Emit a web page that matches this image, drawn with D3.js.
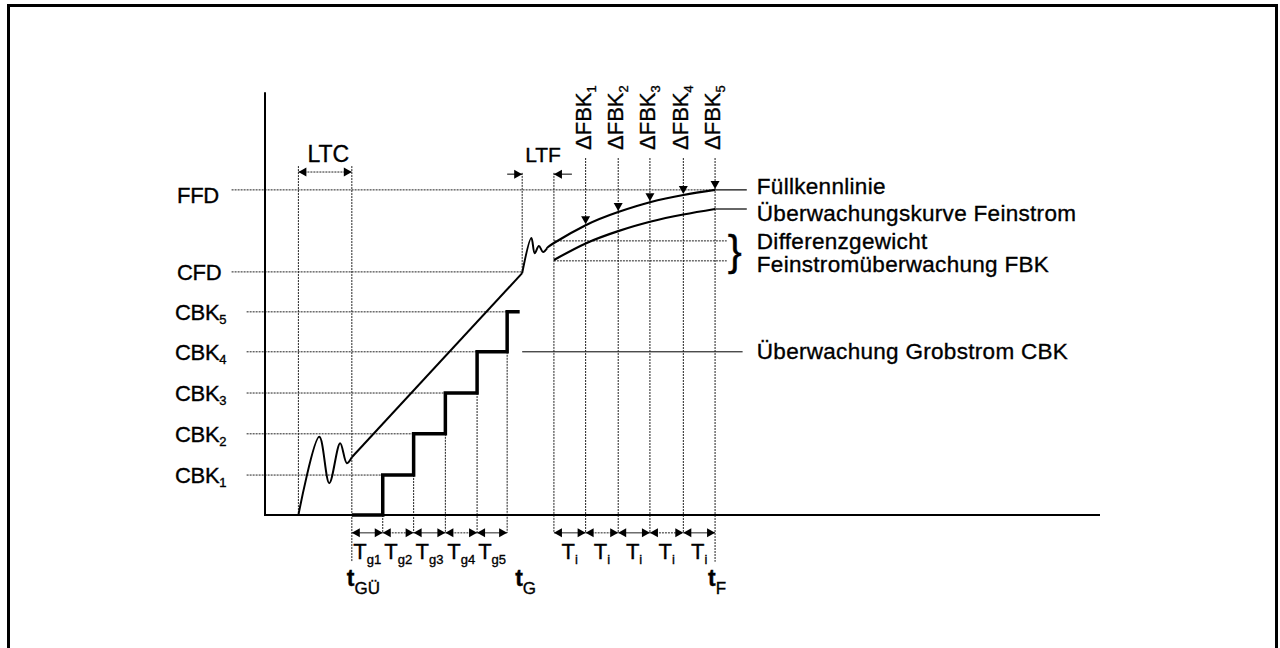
<!DOCTYPE html>
<html>
<head>
<meta charset="utf-8">
<script src="https://cdn.jsdelivr.net/npm/d3@7"></script>
<style>
  body { margin: 0; background: #fff; }
  svg text { font-family: "Liberation Sans", Arial, sans-serif; fill: #000; stroke: #000; stroke-width: 0.35; }
</style>
</head>
<body>
<svg id="chart" width="1280" height="648"></svg>
<script>
// Filling process diagram (weight over time)

// --- values (x: time, y: weight, both 0..100) ---
const ffdLevel = 76.5;
const cfdLevel = 57.2;
const cbkLevels = [9.4, 19.1, 28.7, 38.4, 47.8];
const cbkNames = ["1", "2", "3", "4", "5"];
const coarseT = [10.4, 14.1, 17.8, 21.6, 25.4, 29.0];   // tGÜ ... tG
const coarseEnd = 30.5;
const fineT = [34.6, 38.4, 42.3, 46.1, 50.1, 53.9];     // fine start ... tF
const ltcSpan = [4.0, 10.4];
const ltfSpan = [30.8, 34.6];
const fillRise = [[4.0, 0], [6.5, 18.4], [7.7, 7.5], [9.0, 16.9], [9.8, 12.2], [10.4, 13.6]];
const fillRamp = [[10.4, 13.6], [30.8, 56.9]];
const fillSettle = [[30.8, 56.9], [31.9, 65.2], [32.3, 61.6], [32.8, 63.3], [33.3, 61.9], [33.8, 62.8]];
const fillFine = [64.0, 68.2, 71.3, 73.6, 75.3, 76.5];
const monitorFine = [60.0, 63.9, 66.8, 69.0, 70.7, 72.0];
const diffLevels = [64.5, 59.8];
const leftLabels = ["FFD", "CFD"];
const rightLabels = ["Füllkennlinie", "Überwachungskurve Feinstrom", "Differenzgewicht", "Feinstromüberwachung FBK", "Überwachung Grobstrom CBK"];
const rightLabelY = [77.2, 70.8, 64.2, 58.8, 38.4];
const coarseSubs = ["g1", "g2", "g3", "g4", "g5"];
const fbkSubs = ["1", "2", "3", "4", "5"];

// --- layout ---
const svg = d3.select("#chart");
const x = d3.scaleLinear().domain([0, 100]).range([265, 1100]);
const y = d3.scaleLinear().domain([0, 100]).range([515, 90]);
const arrowRow = -4.2, longTick = -11, ltcTop = 82.1, ltfTop = 80.5, fbkTop = 84.0;
const labelEnd = 57.7, diffEnd = 55.3, cbkRightEnd = 57.2;

// outer frame
svg.append("rect").attr("x", 8.5).attr("y", 5.5).attr("width", 1268).attr("height", 680)
  .attr("fill", "none").attr("stroke", "#000").attr("stroke-width", 3);

const g = svg.append("g");

function hline(yv, x0, x1, dotted, w) {
  g.append("line").attr("x1", x(x0)).attr("x2", x(x1)).attr("y1", y(yv)).attr("y2", y(yv))
    .attr("stroke", dotted ? "#222" : "#000").attr("stroke-width", w || 1)
    .attr("stroke-dasharray", dotted ? "2,1" : null);
}
function vline(xv, y0, y1, dotted, w) {
  g.append("line").attr("x1", x(xv)).attr("x2", x(xv)).attr("y1", y(y0)).attr("y2", y(y1))
    .attr("stroke", dotted ? "#222" : "#000").attr("stroke-width", w || 1)
    .attr("stroke-dasharray", dotted ? "2,1" : null);
}
// filled triangle with its tip at (px, py) pointing dir: "l", "r", "d"
function head(px, py, dir) {
  const L = 8, W = 4.5;
  let pts;
  if (dir === "r") pts = [[px, py], [px - L, py - W], [px - L, py + W]];
  else if (dir === "l") pts = [[px, py], [px + L, py - W], [px + L, py + W]];
  else pts = [[px, py], [px - W, py - L], [px + W, py - L]];
  g.append("path").attr("d", "M" + pts.join("L") + "Z").attr("fill", "#000");
}

// horizontal guide lines
hline(ffdLevel, -4.0, fineT[5], true);
hline(cfdLevel, -4.0, ltfSpan[0], true);
cbkLevels.forEach((lv, i) => hline(lv, -2.2, coarseT[i + 1], true));
hline(cbkLevels[3], ltfSpan[0], cbkRightEnd, false);
diffLevels.forEach(lv => hline(lv, fineT[0], diffEnd, true));

// vertical guide lines
vline(ltcSpan[0], ltcTop, 0, true);
vline(coarseT[0], ltcTop, longTick, true);
coarseT.slice(1).forEach((t, i) => vline(t, i === 0 ? 0 : cbkLevels[i - 1], arrowRow, true));
vline(ltfSpan[0], ltfTop, fillRamp[1][1], true);
vline(fineT[0], ltfTop, arrowRow, true);
fineT.slice(1).forEach((t, i) => vline(t, fbkTop, i === 4 ? longTick : arrowRow, true));

// axes
g.append("line").attr("x1", x(0)).attr("x2", x(0)).attr("y1", y(0) + 1).attr("y2", y(99.5))
  .attr("stroke", "#000").attr("stroke-width", 2);
g.append("line").attr("x1", x(0)).attr("x2", x(100)).attr("y1", y(0)).attr("y2", y(0))
  .attr("stroke", "#000").attr("stroke-width", 2);

// fill characteristic
const lineFn = d3.line().x(d => x(d[0])).y(d => y(d[1]));
const smoothFn = d3.line().x(d => x(d[0])).y(d => y(d[1])).curve(d3.curveCatmullRom.alpha(0.5));
const naturalFn = d3.line().x(d => x(d[0])).y(d => y(d[1])).curve(d3.curveNatural);
const fineFill = [fillSettle[fillSettle.length - 1]].concat(fineT.map((t, i) => [t, fillFine[i]]));
const fineMon = fineT.map((t, i) => [t, monitorFine[i]]);
g.append("path").attr("d", smoothFn(fillRise)).attr("fill", "none").attr("stroke", "#000").attr("stroke-width", 2);
g.append("path").attr("d", lineFn(fillRamp)).attr("fill", "none").attr("stroke", "#000").attr("stroke-width", 2);
g.append("path").attr("d", smoothFn(fillSettle)).attr("fill", "none").attr("stroke", "#000").attr("stroke-width", 2);
g.append("path").attr("d", naturalFn(fineFill)).attr("fill", "none").attr("stroke", "#000").attr("stroke-width", 2.2);
hline(ffdLevel, fineT[5], labelEnd, false, 1.2);
// monitoring curve
g.append("path").attr("d", naturalFn(fineMon)).attr("fill", "none").attr("stroke", "#000").attr("stroke-width", 2.2);
hline(monitorFine[5], fineT[5], labelEnd, false, 1.2);

// coarse monitoring staircase
const stair = [[coarseT[0], 0]];
cbkLevels.forEach((lv, i) => {
  stair.push([coarseT[i + 1], i === 0 ? 0 : cbkLevels[i - 1]]);
  stair.push([coarseT[i + 1], lv]);
});
stair.push([coarseEnd, cbkLevels[4]]);
g.append("path").attr("d", lineFn(stair)).attr("fill", "none").attr("stroke", "#000")
  .attr("stroke-width", 3.5).attr("stroke-linejoin", "miter");

// LTC / LTF markers
hline(80.7, ltcSpan[0], ltcSpan[1], true);
head(x(ltcSpan[0]), y(80.7), "l");
head(x(ltcSpan[1]), y(80.7), "r");
g.append("line").attr("x1", x(ltfSpan[0]) - 15).attr("x2", x(ltfSpan[0])).attr("y1", y(80.2)).attr("y2", y(80.2)).attr("stroke", "#000");
head(x(ltfSpan[0]), y(80.2), "r");
g.append("line").attr("x1", x(ltfSpan[1]) + 18).attr("x2", x(ltfSpan[1])).attr("y1", y(80.2)).attr("y2", y(80.2)).attr("stroke", "#000");
head(x(ltfSpan[1]), y(80.2), "l");
g.append("text").attr("x", x(ltcSpan[0]) + 9).attr("y", y(80.7) - 10)
  .attr("font-size", 23).text("LTC");
g.append("text").attr("x", x(ltfSpan[0]) + 3).attr("y", y(80.7) - 10)
  .attr("font-size", 21).text("LTF");

// ΔFBK arrows
fineT.slice(1).forEach((t, i) => head(x(t), y(fillFine[i + 1]) - 1, "d"));
fineT.slice(1).forEach((t, i) => {
  const tx = g.append("text").attr("transform", "translate(" + (x(t) + 5) + "," + (y(fbkTop) - 8) + ") rotate(-90)")
    .attr("font-size", 22);
  tx.append("tspan").text("ΔFBK");
  tx.append("tspan").attr("dy", 5).attr("font-size", 13).text(fbkSubs[i]);
});

// interval arrows below the axis
function intervals(bounds, subs) {
  bounds.slice(0, -1).forEach((t, i) => {
    const a = x(t), b = x(bounds[i + 1]), py = y(arrowRow);
    g.append("line").attr("x1", a).attr("x2", b).attr("y1", py).attr("y2", py)
      .attr("stroke", "#222").attr("stroke-dasharray", i % 2 ? "2,1" : null);
    head(a, py, "l");
    head(b, py, "r");
    const tx = g.append("text").attr("x", (a + b) / 2).attr("y", y(0) + 44)
      .attr("text-anchor", "middle").attr("font-size", 22);
    tx.append("tspan").text("T");
    tx.append("tspan").attr("dy", 5).attr("font-size", 13).text(subs[i]);
  });
}
intervals(coarseT, coarseSubs);
intervals(fineT, fineT.slice(1).map(() => "i"));

// time labels
function timeLabel(px, sub) {
  const tx = g.append("text").attr("x", px).attr("y", y(0) + 71).attr("font-size", 23).attr("font-weight", "bold");
  tx.append("tspan").text("t");
  tx.append("tspan").attr("dy", 8).attr("font-size", 17).attr("font-weight", "normal").text(sub);
}
timeLabel(x(coarseT[0]) - 5, "GÜ");
timeLabel(x(coarseT[5]) + 8, "G");
timeLabel(x(fineT[5]) - 7, "F");

// left labels
[ffdLevel, cfdLevel].forEach((lv, i) => {
  g.append("text").attr("x", 177).attr("y", y(lv) + (i === 0 ? 13 : 8))
    .attr("font-size", 22).attr("letter-spacing", -0.3).text(leftLabels[i]);
});
cbkLevels.forEach((lv, i) => {
  const tx = g.append("text").attr("x", 175).attr("y", y(lv) + 8).attr("font-size", 22).attr("letter-spacing", -0.3);
  tx.append("tspan").text("CBK");
  tx.append("tspan").attr("dy", 4).attr("font-size", 13).attr("letter-spacing", 0).text(cbkNames[i]);
});

// right labels
rightLabels.forEach((s, i) => {
  g.append("text").attr("x", x(labelEnd) + 10).attr("y", y(rightLabelY[i]) + 7)
    .attr("font-size", 22.5).attr("letter-spacing", 0.3).text(s);
});
// brace for the difference weight
g.append("text").attr("x", x(diffEnd) + 1).attr("y", y(diffLevels[1]) + 4)
  .attr("font-size", 42).attr("stroke-width", 0.8).text("}");
</script>
</body>
</html>
